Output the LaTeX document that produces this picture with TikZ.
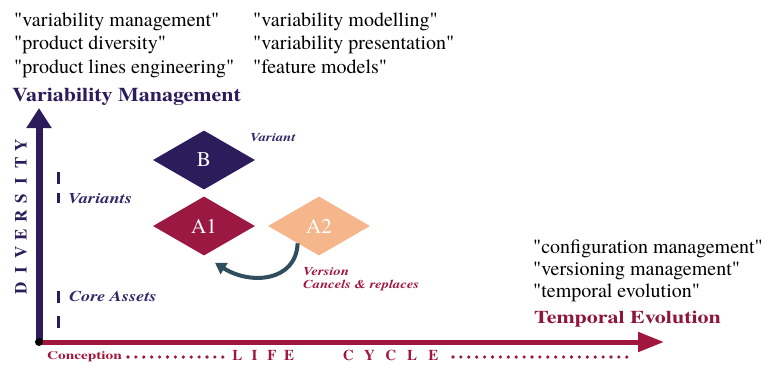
\documentclass[tikz,border=0pt]{standalone}
\usepackage{fontspec}
\setmainfont{texgyretermes}[Extension=.otf, UprightFont=*-regular,
  BoldFont=*-bold, ItalicFont=*-italic, BoldItalicFont=*-bolditalic,
  Ligatures=TeXOff]
% widened faces for the bold headings and labels
\newfontfamily\wideA{texgyretermes}[Extension=.otf, UprightFont=*-regular,
  BoldFont=*-bold, ItalicFont=*-italic, BoldItalicFont=*-bolditalic,
  FakeStretch=1.125]
\newfontfamily\wideB{texgyretermes}[Extension=.otf, UprightFont=*-regular,
  BoldFont=*-bold, ItalicFont=*-italic, BoldItalicFont=*-bolditalic,
  FakeStretch=1.22]
\newfontfamily\wideC{texgyretermes}[Extension=.otf, UprightFont=*-regular,
  BoldFont=*-bold, ItalicFont=*-italic, BoldItalicFont=*-bolditalic,
  FakeStretch=1.33]
\usetikzlibrary{shapes.geometric,arrows.meta}

\definecolor{navy}{RGB}{44,28,92}
\definecolor{inkblue}{RGB}{48,40,106}
\definecolor{crimson}{RGB}{160,22,60}
\definecolor{darkred}{RGB}{142,22,56}
\definecolor{wine}{RGB}{155,24,66}
\definecolor{peach}{RGB}{245,182,140}
\definecolor{slate}{RGB}{48,78,94}

% one letter in a box of fixed width, for letter-spaced words
\newcommand\lbox[2]{\makebox[#1][c]{#2}}

\begin{document}
\begin{tikzpicture}[x=1pt,y=-1pt,
  quote/.style={anchor=base west, inner sep=0pt, text=black,
    font=\fontsize{20}{24}\selectfont},
  axistitle/.style={anchor=base west, inner sep=0pt},
  sidelabel/.style={anchor=base west, inner sep=0pt, text=inkblue,
    font=\wideB\bfseries\itshape\fontsize{15}{18}\selectfont},
  smalllabel/.style={anchor=base west, inner sep=0pt,
    font=\wideB\bfseries\itshape\fontsize{12}{14}\selectfont},
  item/.style={diamond, minimum width=102pt, minimum height=59pt,
    inner sep=0pt, text=white, font=\fontsize{21}{21}\selectfont},
  tick/.style={navy, line width=3pt},
  dotrow/.style={crimson, line width=3.6pt, line cap=round,
    dash pattern=on 0pt off 7.9pt},
]
\useasboundingbox (0,0) rectangle (766,365);

% keyword lists
\node[quote] (q1) at (14,26)   {"variability management"};
\node[quote] (q2) at (14,49.5) {"product diversity"};
\node[quote] (q3) at (14,73)   {"product lines engineering"};
\node[quote] (q4) at (253,26)   {"variability modelling"};
\node[quote] (q5) at (253,49.5) {"variability presentation"};
\node[quote] (q6) at (253,73)   {"feature models"};
\node[quote] (q7) at (533,253) {"configuration management"};
\node[quote] (q8) at (533,275) {"versioning management"};
\node[quote] (q9) at (533,297) {"temporal evolution"};

% axis titles
\node[axistitle, text=navy, font=\wideA\bfseries\fontsize{19.5}{22}\selectfont]
  (vm) at (12,101) {Variability Management};
\node[axistitle, text=darkred, font=\wideB\bfseries\fontsize{18}{20}\selectfont]
  (te) at (534,323) {Temporal Evolution};

% axes
\coordinate (O) at (39,342);
\coordinate (ytop) at (39,108);
\coordinate (xend) at (664,342);
\draw[navy, line width=7pt, -{Triangle[length=20pt,width=24pt]}] (O) -- (ytop);
\draw[crimson, line width=5pt, -{Triangle[length=26pt,width=19pt]}] (O) -- (xend);
\fill[black] (O) circle (4pt);

% vertical axis caption
\node[rotate=90, inner sep=0pt, text=navy,
  font=\bfseries\fontsize{17}{17}\selectfont] (div) at (21,216.5)
  {\lbox{17.9pt}{D}\lbox{17.9pt}{I}\lbox{17.9pt}{V}\lbox{17.9pt}{E}\lbox{17.9pt}{R}\lbox{17.9pt}{S}\lbox{17.9pt}{I}\lbox{17.9pt}{T}\lbox{17.9pt}{Y}};

% level ticks and labels
\draw[tick] (58,172) -- (58,184);
\draw[tick] (58,193) -- (58,203);
\draw[tick] (58,291) -- (58,303);
\draw[tick] (58,316) -- (58,328);
\node[sidelabel] (variants) at (68,203) {Variants};
\node[sidelabel] (core) at (69,301) {Core Assets};

% life cycle caption
\node[axistitle, text=crimson, font=\wideC\bfseries\fontsize{11.5}{13}\selectfont]
  (concep) at (47,359) {Conception};
\coordinate (d1s) at (128,357);
\coordinate (d1e) at (223,357);
\coordinate (d2s) at (453,357);
\coordinate (d2e) at (629,357);
\draw[dotrow] (d1s) -- (d1e);
\draw[dotrow] (d2s) -- (d2e);
\node[axistitle, text=crimson, font=\bfseries\fontsize{15}{16}\selectfont]
  (life) at (228.4,360)
  {\lbox{17.3pt}{L}\lbox{17.3pt}{I}\lbox{17.3pt}{F}\lbox{17.3pt}{E}};
\node[axistitle, text=crimson, font=\bfseries\fontsize{15}{16}\selectfont]
  (cycle) at (337.4,360)
  {\lbox{21.3pt}{C}\lbox{21.3pt}{Y}\lbox{21.3pt}{C}\lbox{21.3pt}{L}\lbox{21.3pt}{E}};

% artefacts
\node[item, fill=navy] (B) at (204,160) {B};
\node[item, fill=wine] (A1) at (204,226) {A1};
\node[item, fill=peach] (A2) at (319,226) {A2};

\node[smalllabel, text=inkblue] (variant) at (250,141) {Variant};
\node[smalllabel, text=crimson] (version) at (303,275) {Version};
\node[smalllabel, text=crimson] (cancels) at (303,288) {Cancels \& replaces};

% A2 replaces A1
\draw[slate, line width=4pt, shorten >=13pt,
  -{Triangle[length=11pt,width=13pt]}]
  (A2.219) .. controls (296,282) and (250,285) .. (A1.south);
\end{tikzpicture}
\end{document}
